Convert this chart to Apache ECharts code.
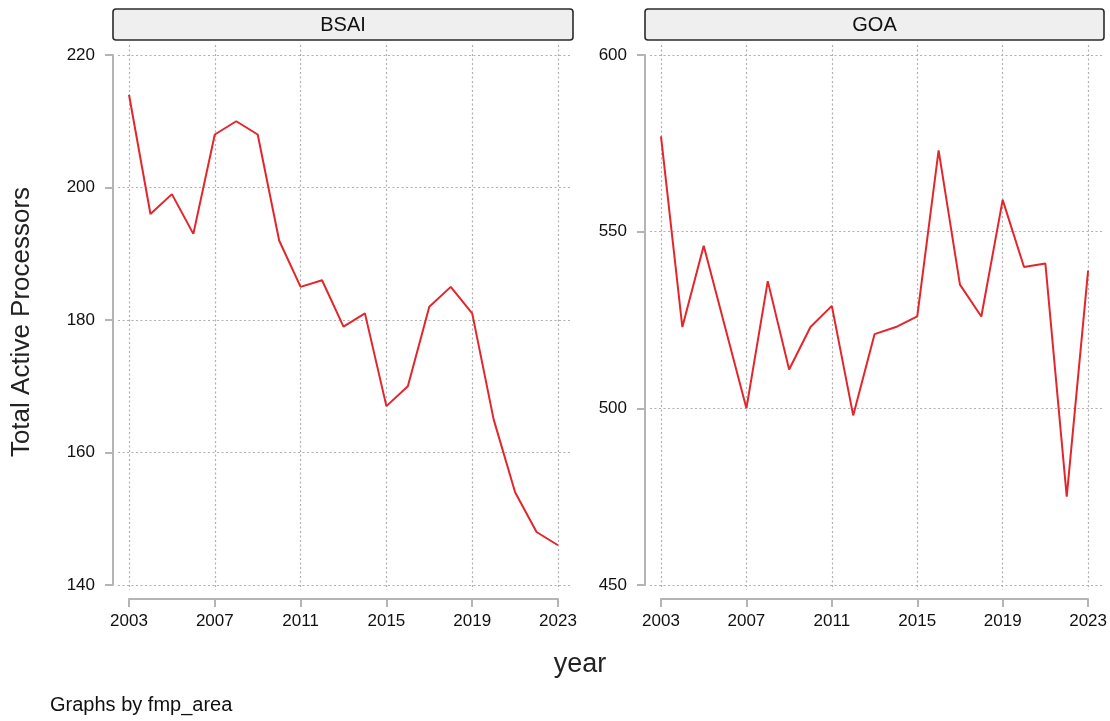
<!DOCTYPE html>
<html>
<head>
<meta charset="utf-8">
<script src="https://cdn.jsdelivr.net/npm/echarts@6/dist/echarts.min.js"></script>
<style>
  html, body { margin: 0; padding: 0; background: #ffffff; }
  #chart { width: 1110px; height: 721px; }
</style>
</head>
<body>
<div id="chart"></div>
<script>
// Active processors per year, by FMP area
const years = [2003, 2004, 2005, 2006, 2007, 2008, 2009, 2010, 2011, 2012, 2013,
               2014, 2015, 2016, 2017, 2018, 2019, 2020, 2021, 2022, 2023];
const bsaiValues = [214, 196, 199, 193, 208, 210, 208, 192, 185, 186, 179,
                    181, 167, 170, 182, 185, 181, 165, 154, 148, 146];
const goaValues = [577, 523, 546, 523, 500, 536, 511, 523, 529, 498, 521,
                   523, 526, 573, 535, 526, 559, 540, 541, 475, 539];
const panelNames = ['BSAI', 'GOA'];
const bsaiTicks = [140, 160, 180, 200, 220];
const goaTicks = [450, 500, 550, 600];
const yearTicks = [2003, 2007, 2011, 2015, 2019, 2023];

const FONT = "'Liberation Sans', Arial, sans-serif";
const AXIS_GREY = '#b4b4b4';
const GRID_GREY = '#b0b0b0';
const GRID_DASH = [2, 2.5];
const LINE_RED = '#e3262c';

// Panel geometry (pixels)
const panels = [
  { name: panelNames[0], values: bsaiValues, ticks: bsaiTicks,
    axisX: 113, gridL: 118, gridR: 570, x0: 129, x1: 558, stripR: 573 },
  { name: panelNames[1], values: goaValues, ticks: goaTicks,
    axisX: 645, gridL: 650, gridR: 1102, x0: 661, x1: 1091, stripR: 1104 }
];
const yTop = 55, yBot = 585;      // pixel span of the y ticks
const vTop = 45, vBot = 590;      // pixel span of the vertical grid lines
const xAxisY = 599;               // x axis line

const grid = [], xAxis = [], yAxis = [], series = [], graphic = [];
const hiddenX = (gi) => ({ gridIndex: gi, type: 'value', min: 0, max: 1, show: false });

panels.forEach((p, i) => {
  const yMin = p.ticks[0], yMax = p.ticks[p.ticks.length - 1];
  const yStep = p.ticks[1] - p.ticks[0];
  const ppu = (yBot - yTop) / (yMax - yMin);
  const g = 3 * i;

  // visible y axis, sitting a few pixels left of the plot region
  grid.push({ left: p.axisX, top: yTop, width: p.gridR - p.axisX, height: yBot - yTop });
  xAxis.push(hiddenX(g));
  yAxis.push({
    gridIndex: g, type: 'value', min: yMin, max: yMax, interval: yStep,
    axisLine: { show: true, lineStyle: { color: AXIS_GREY, width: 2 } },
    axisTick: { show: true, length: 8, lineStyle: { color: AXIS_GREY, width: 2 } },
    axisLabel: { margin: 18, color: '#111', fontFamily: FONT, fontSize: 17 },
    splitLine: { show: false }
  });

  // horizontal grid lines across the plot region
  grid.push({ left: p.gridL, top: yTop, width: p.gridR - p.gridL, height: yBot - yTop });
  xAxis.push(hiddenX(g + 1));
  yAxis.push({
    gridIndex: g + 1, type: 'value', min: yMin, max: yMax, interval: yStep,
    axisLine: { show: false }, axisTick: { show: false }, axisLabel: { show: false },
    splitLine: { show: true, lineStyle: { color: GRID_GREY, width: 1.2, type: GRID_DASH } }
  });

  // vertical grid lines, the x axis and the data line
  grid.push({ left: p.x0, top: vTop, width: p.x1 - p.x0, height: vBot - vTop });
  xAxis.push({
    gridIndex: g + 2, type: 'value', min: yearTicks[0], max: yearTicks[yearTicks.length - 1],
    interval: yearTicks[1] - yearTicks[0],
    offset: xAxisY - vBot,
    axisLine: { show: true, lineStyle: { color: AXIS_GREY, width: 2 } },
    axisTick: { show: true, length: 8, lineStyle: { color: AXIS_GREY, width: 2 } },
    axisLabel: { margin: 14, color: '#111', fontFamily: FONT, fontSize: 17,
                 formatter: (v) => String(v) },
    splitLine: { show: true, lineStyle: { color: GRID_GREY, width: 1.2, type: GRID_DASH } }
  });
  yAxis.push({
    gridIndex: g + 2, type: 'value', show: false,
    min: yMin - (vBot - yBot) / ppu, max: yMax + (yTop - vTop) / ppu,
    splitLine: { show: false }
  });
  series.push({
    type: 'line', xAxisIndex: g + 2, yAxisIndex: g + 2,
    data: years.map((y, k) => [y, p.values[k]]),
    showSymbol: false, symbol: 'none', silent: true,
    lineStyle: { color: LINE_RED, width: 2 }
  });

  // panel header strip
  graphic.push({
    type: 'rect', shape: { x: p.axisX, y: 9, width: p.stripR - p.axisX, height: 31, r: 3 },
    style: { fill: '#efefef', stroke: '#2b2b2b', lineWidth: 1.6 }
  });
  graphic.push({
    type: 'text', x: (p.axisX + p.stripR) / 2, y: 25,
    style: { text: p.name, fill: '#111', font: '20px ' + FONT, align: 'center', verticalAlign: 'middle' }
  });
});

graphic.push({
  type: 'text', x: 22, y: 322, rotation: Math.PI / 2,
  style: { text: 'Total Active Processors', fill: '#222', font: '26px ' + FONT,
           align: 'center', verticalAlign: 'middle' }
});
graphic.push({
  type: 'text', x: 580, y: 665,
  style: { text: 'year', fill: '#222', font: '27px ' + FONT, align: 'center', verticalAlign: 'middle' }
});
graphic.push({
  type: 'text', x: 50, y: 705,
  style: { text: 'Graphs by fmp_area', fill: '#111', font: '20px ' + FONT, align: 'left', verticalAlign: 'middle' }
});

const chart = echarts.init(document.getElementById('chart'), null, { renderer: 'canvas' });
chart.setOption({
  backgroundColor: '#ffffff',
  animation: false,
  grid, xAxis, yAxis, series, graphic
});
</script>
</body>
</html>
